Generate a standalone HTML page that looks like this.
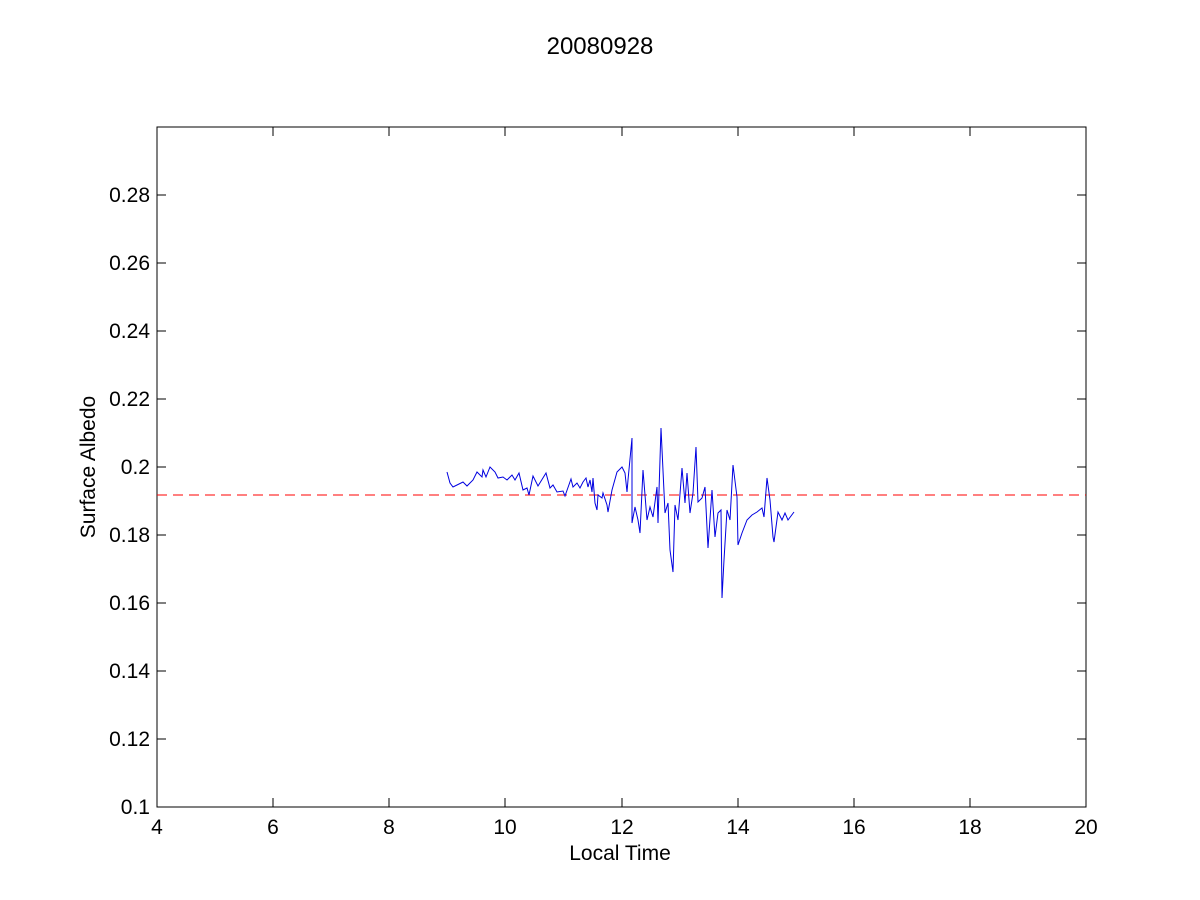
<!DOCTYPE html>
<html><head><style>body{margin:0;background:#fff}svg{display:block}text{font-family:"Liberation Sans",Arial,sans-serif;font-size:21px;fill:#000}</style></head><body>
<svg width="1200" height="900" xmlns="http://www.w3.org/2000/svg">
<rect width="1200" height="900" fill="#fff"/>
<text x="600" y="54" text-anchor="middle" style="font-size:24px">20080928</text>
<rect x="157" y="127" width="929" height="680" fill="none" stroke="#000" stroke-width="1"/>
<g stroke="#000" stroke-width="1">
<path d="M157,807v-9M1086,807v-9M157,127v9M1086,127v9"/>
<path d="M273,807v-9M273,127v9M389,807v-9M389,127v9M505,807v-9M505,127v9M622,807v-9M622,127v9M738,807v-9M738,127v9M854,807v-9M854,127v9M970,807v-9M970,127v9"/>
<path d="M157,739h9M1086,739h-9M157,671h9M1086,671h-9M157,603h9M1086,603h-9M157,535h9M1086,535h-9M157,467h9M1086,467h-9M157,399h9M1086,399h-9M157,331h9M1086,331h-9M157,263h9M1086,263h-9M157,195h9M1086,195h-9"/>
</g>
<g text-anchor="middle">
<text x="157" y="834">4</text><text x="273" y="834">6</text><text x="389" y="834">8</text><text x="505" y="834">10</text><text x="622" y="834">12</text><text x="738" y="834">14</text><text x="854" y="834">16</text><text x="970" y="834">18</text><text x="1086" y="834">20</text>
</g>
<g text-anchor="end">
<text x="150" y="814">0.1</text><text x="150" y="746">0.12</text><text x="150" y="678">0.14</text><text x="150" y="610">0.16</text><text x="150" y="542">0.18</text><text x="150" y="474">0.2</text><text x="150" y="406">0.22</text><text x="150" y="338">0.24</text><text x="150" y="270">0.26</text><text x="150" y="202">0.28</text>
</g>
<text x="620" y="860" text-anchor="middle">Local Time</text>
<text transform="translate(95,467) rotate(-90)" text-anchor="middle">Surface Albedo</text>
<line x1="157" y1="495" x2="1086" y2="495" stroke="#f00" stroke-width="1" stroke-dasharray="10,6"/>
<polyline fill="none" stroke="#0000e0" stroke-width="1" points="447,472 450,483 453,487 457,485 463,482 467,486 473,480 477,472 482,477 483,470 486,477 490,467 495,472 498,478 503,477 507,480 512,475 515,480 519,473 523,490 527,488 529,495 533,476 538,486 546,473 550,488 553,485 557,492 563,491 565,496 571,479 573,487 577,483 580,488 583,482 586,478 588,487 590,480 592,492 593,478 595,503 597,510 598,495 602,498 603,493 607,505 608,512 612,490 617,472 622,467 625,473 627,492 628,480 632,438 632,523 635,507 638,520 640,533 643,470 647,520 650,507 653,517 657,487 658,523 661,428 665,513 668,503 670,550 673,572 675,505 678,520 682,468 685,503 687,473 690,513 693,493 696,447 698,502 702,498 705,487 708,548 712,490 715,537 718,513 721,510 722,598 724,560 727,510 730,520 733,465 737,497 738,545 742,533 747,520 752,515 757,512 762,508 764,517 767,478 770,500 773,537 774,542 778,512 782,520 785,513 788,520 794,512"/>
</svg>
</body></html>
